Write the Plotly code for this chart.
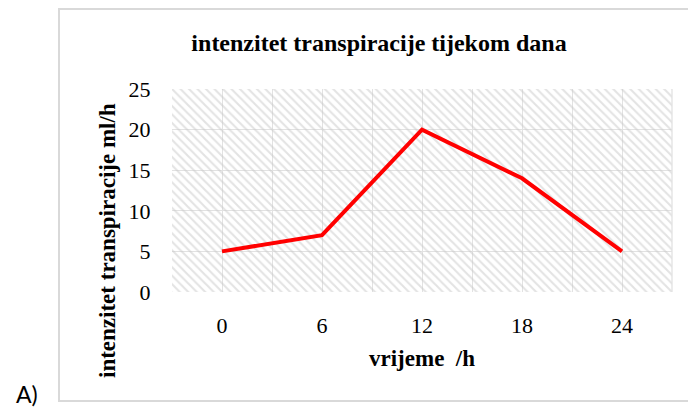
import plotly.graph_objects as go

# Transpiration rate over the day
hours = [0, 6, 12, 18, 24]
rate = [5, 7, 20, 14, 5]
y_ticks = [0, 5, 10, 15, 20, 25]

title_text = "intenzitet transpiracije tijekom dana"
x_title = "vrijeme&nbsp;&nbsp;/h"
y_title = "intenzitet transpiracije ml/h"
panel_label = "A)"

W, H = 688, 408
L, R, T, B = 172, 16, 89, 116

step = hours[1] - hours[0]
x_lo, x_hi = hours[0] - step / 2, hours[-1] + step / 2
y_lo, y_hi = y_ticks[0], y_ticks[-1]

# grid lines at every half category, labels only at the categories
grid_vals = [x_lo + i * step / 2 for i in range(2 * len(hours) + 1)]
grid_text = [str(int(v)) if v in hours else "" for v in grid_vals]

serif = "Liberation Serif"

fig = go.Figure()

# hatched plot-area background
fig.add_trace(go.Scatter(
    x=[x_lo, x_hi, x_hi, x_lo, x_lo],
    y=[y_lo, y_lo, y_hi, y_hi, y_lo],
    mode="none", fill="toself", fillcolor="rgba(0,0,0,0)",
    fillpattern=dict(shape="\\", fgcolor="#c8c8c8", bgcolor="rgba(255,255,255,0)",
                     size=6, solidity=0.35),
    hoverinfo="skip", showlegend=False,
))

fig.add_trace(go.Scatter(
    x=hours, y=rate, mode="lines",
    line=dict(color="#ff0000", width=4),
    showlegend=False,
))

PW, PH = W - L - R, H - T - B


def px_x(x):
    return (x - L) / PW


def px_y(y):
    return ((H - B) - y) / PH


fig.update_layout(
    width=W, height=H,
    margin=dict(l=L, r=R, t=T, b=B),
    paper_bgcolor="white", plot_bgcolor="white",
    font=dict(family=serif, color="black"),
    title=dict(text="<b>" + title_text + "</b>", font=dict(size=24, family=serif, color="black"),
               xref="container", yref="container", x=379 / W, y=1 - 43 / H,
               xanchor="center", yanchor="middle"),
    xaxis=dict(range=[x_lo, x_hi], tickvals=grid_vals, ticktext=grid_text,
               showgrid=True, gridcolor="#e2e2e2", gridwidth=1.3,
               zeroline=False, showline=False,
               ticks="outside", ticklen=14, tickcolor="rgba(0,0,0,0)",
               tickfont=dict(size=22, family=serif, color="black")),
    yaxis=dict(range=[y_lo, y_hi], tickvals=y_ticks,
               showgrid=True, gridcolor="#e2e2e2", gridwidth=1.3,
               zeroline=False, showline=False,
               ticks="outside", ticklen=16, tickcolor="rgba(0,0,0,0)",
               tickfont=dict(size=22, family=serif, color="black")),
    shapes=[
        # chart frame
        dict(type="rect", xref="paper", yref="paper",
             x0=px_x(59), x1=1.08, y0=px_y(401), y1=px_y(9),
             line=dict(color="#d9d9d9", width=2), fillcolor="rgba(0,0,0,0)",
             layer="below"),
        # right border of plot area
        dict(type="line", xref="paper", yref="paper", x0=1, x1=1, y0=0, y1=1,
             line=dict(color="#e2e2e2", width=1.3)),
    ],
    annotations=[
        dict(text="<b>" + x_title + "</b>", xref="paper", yref="paper",
             x=0.5, y=px_y(358), xanchor="center", yanchor="middle",
             showarrow=False, font=dict(size=23, family=serif, color="black")),
        dict(text="<b>" + y_title + "</b>", xref="paper", yref="paper",
             x=px_x(107), y=px_y(241),
             xanchor="center", yanchor="middle", textangle=-90,
             showarrow=False, font=dict(size=23, family=serif, color="black")),
        dict(text=panel_label, xref="paper", yref="paper",
             x=px_x(27), y=px_y(394),
             xanchor="center", yanchor="middle",
             showarrow=False, font=dict(size=23, family="Lato", color="black")),
    ],
)

fig.write_html("out.html")
